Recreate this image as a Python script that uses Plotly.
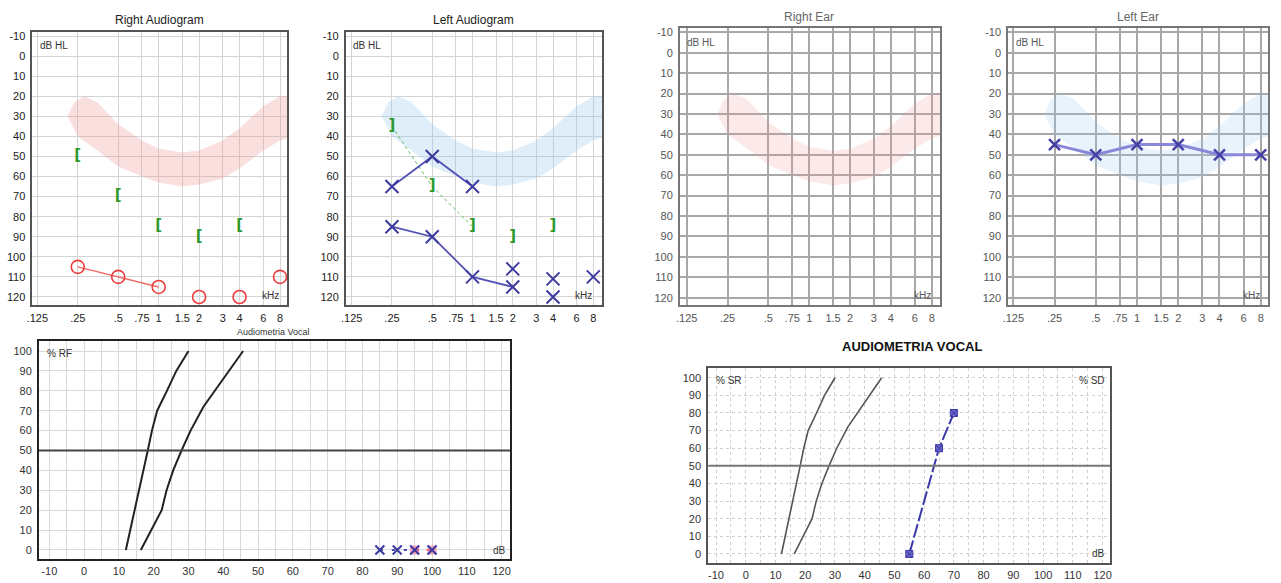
import numpy as np
import plotly.graph_objects as go

W, H = 1281, 583

# ---------------- data ----------------
FREQ_TICKS = [0.125, 0.25, 0.5, 0.75, 1, 1.5, 2, 3, 4, 6, 8]
FREQ_LABELS = [".125", ".25", ".5", ".75", "1", "1.5", "2", "3", "4", "6", "8"]
DB_TICKS = list(range(-10, 121, 10))

banana_upper_f = [0.21, 0.235, 0.28, 0.35, 0.5, 0.75, 1, 1.5, 2, 3, 4, 6, 8, 10]
banana_upper_db = [30, 23, 20, 23, 34, 42, 46, 48, 47, 42, 36, 25, 20, 20]
banana_lower_f = [10, 8, 6, 4, 3, 2, 1.5, 1, 0.75, 0.5, 0.35, 0.25, 0.21]
banana_lower_db = [40, 42, 47, 56, 61, 64, 65, 63, 60, 55, 47, 40, 30]

# Right audiogram
right_air_f = [0.25, 0.5, 1]
right_air_db = [105, 110, 115]
right_air_nr_f = [2, 4, 8]
right_air_nr_db = [120, 120, 110]
right_bone_f = [0.25, 0.5, 1, 2, 4]
right_bone_db = [50, 70, 85, 90, 85]

# Left audiogram
left_air1_f = [0.25, 0.5, 1]
left_air1_db = [65, 50, 65]
left_air2_f = [0.25, 0.5, 1, 2]
left_air2_db = [85, 90, 110, 115]
left_air_nr_f = [2, 4, 4, 8]
left_air_nr_db = [106, 111, 120, 110]
left_bone_f = [0.25, 0.5, 1]
left_bone_db = [35, 65, 85]
left_bone_nr_f = [2, 4]
left_bone_nr_db = [90, 85]

# Left ear (second report)
leftear_f = [0.25, 0.5, 1, 2, 4, 8]
leftear_db = [45, 50, 45, 45, 50, 50]

# Speech audiometry
norm1_db = [12, 14.6, 16.5, 18.3, 19.5, 21, 23.8, 26.5, 30]
norm1_pct = [0, 20, 35, 50, 60, 70, 80, 90, 100]
norm2_db = [16.3, 19.4, 22.3, 23.7, 25.6, 28, 30.6, 34.3, 39.5, 45.7]
norm2_pct = [0, 10, 20, 30, 40, 50, 60, 72, 85, 100]
vocal1_db = [85, 90, 95, 100]
vocal1_pct = [0, 0, 0, 0]
vocal1_masked_db = [95, 100]
vocal1_masked_pct = [0, 0]
vocal2_db = [55, 65, 70]
vocal2_pct = [0, 60, 80]

DB_SPEECH_TICKS = list(range(-10, 121, 10))
PCT_TICKS = list(range(0, 101, 10))
SD_TICKS = list(range(0, 101, 10))

# ---------------- helpers ----------------
def px(x):
    return x / W

def py(y):
    return 1 - y / H

L2 = np.log10(2)

def log_range(ol, orr):
    return [np.log10(0.125) + ol * L2, np.log10(8) + orr * L2]

fig = go.Figure()

def add(trace, n):
    sfx = "" if n == 1 else str(n)
    trace.update(xaxis="x" + sfx, yaxis="y" + sfx, showlegend=False, hoverinfo="skip")
    fig.add_trace(trace)

def banana(n, color):
    add(go.Scatter(x=banana_upper_f + banana_lower_f, y=banana_upper_db + banana_lower_db,
                   mode="lines", fill="toself", fillcolor=color, line=dict(width=0)), n)

layout = dict(width=W, height=H, margin=dict(l=0, r=0, t=0, b=0), autosize=False,
              template="none", paper_bgcolor="white", plot_bgcolor="white",
              font=dict(family="Liberation Sans, Arial, sans-serif", color="#333"))

def aud_axes(n, xd, yd, xr, yr, gridc, linec, linew, tickc, gw):
    sfx = "" if n == 1 else str(n)
    layout["xaxis" + sfx] = dict(domain=xd, anchor="y" + sfx, type="log", range=xr,
                                 tickvals=FREQ_TICKS, ticktext=FREQ_LABELS, showgrid=True,
                                 gridcolor=gridc, gridwidth=gw, showline=True, mirror=True,
                                 linecolor=linec, linewidth=linew, ticks="", zeroline=False,
                                 tickfont=dict(size=11, color=tickc), automargin=False,
                                 ticklabelstandoff=2)
    layout["yaxis" + sfx] = dict(domain=yd, anchor="x" + sfx, range=yr, tickvals=DB_TICKS,
                                 ticktext=[str(v) for v in DB_TICKS],
                                 showgrid=True, gridcolor=gridc, gridwidth=gw, showline=True,
                                 mirror=True, linecolor=linec, linewidth=linew, ticks="",
                                 zeroline=False, tickfont=dict(size=11, color=tickc),
                                 automargin=False, ticklabelstandoff=3)

aud_axes(1, [px(32.3), px(287.3)], [py(305), py(32)], log_range(-0.124, 0.18), [124, -12],
         "#d4d4d4", "#555", 1.5, "#222", 1)
aud_axes(2, [px(345.7), px(601.7)], [py(305), py(32)], log_range(-0.149, 0.209), [124, -12],
         "#d4d4d4", "#555", 1.5, "#222", 1)
aud_axes(3, [px(680), px(940)], [py(305), py(28.3)], log_range(-0.164, 0.203), [123.6, -12],
         "#a8a8a8", "#777", 2, "#555", 1.5)
aud_axes(4, [px(1008.3), px(1268.3)], [py(305), py(28.3)], log_range(-0.121, 0.184), [123.6, -12],
         "#a8a8a8", "#777", 2, "#555", 1.5)

layout["xaxis5"] = dict(domain=[px(39), px(510)], anchor="y5", range=[-12.96, 122.4],
                        tickvals=DB_SPEECH_TICKS, ticktext=[str(v) for v in DB_SPEECH_TICKS],
                        showgrid=True, gridcolor="#d8d8d8",
                        minor=dict(dtick=5, tick0=0, showgrid=True, gridcolor="#d8d8d8"),
                        showline=True, mirror=True, linecolor="#222", linewidth=2, ticks="",
                        zeroline=False, tickfont=dict(size=11, color="#333"), automargin=False)
layout["yaxis5"] = dict(domain=[py(559.3), py(340.7)], anchor="x5", range=[-4.7, 105.2],
                        tickvals=PCT_TICKS, showgrid=True, gridcolor="#d8d8d8", showline=True,
                        mirror=True, linecolor="#222", linewidth=2, ticks="", zeroline=False,
                        tickfont=dict(size=11, color="#333"), automargin=False,
                        ticklabelstandoff=3)
layout["xaxis6"] = dict(domain=[px(708.3), px(1110)], anchor="y6", range=[-12.6, 122.5],
                        tickvals=DB_SPEECH_TICKS, ticktext=[str(v) for v in DB_SPEECH_TICKS],
                        showgrid=True, gridcolor="#cfcfcf", griddash="dot",
                        minor=dict(dtick=5, tick0=0, showgrid=True, gridcolor="#cfcfcf", griddash="dot"),
                        showline=True, mirror=True, linecolor="#555", linewidth=2, ticks="",
                        zeroline=False, tickfont=dict(size=11, color="#333"), automargin=False,
                        ticklabelstandoff=0)
layout["yaxis6"] = dict(domain=[py(563.3), py(367.7)], anchor="x6", range=[-5.3, 105.7],
                        tickvals=PCT_TICKS, showgrid=True, gridcolor="#cfcfcf", griddash="dot",
                        showline=True, mirror=True, linecolor="#555", linewidth=2, ticks="",
                        zeroline=False, tickfont=dict(size=11, color="#333"), automargin=False,
                        ticklabelstandoff=3)
layout["yaxis7"] = dict(overlaying="y6", side="right", anchor="x6", range=[105.3, -5.7],
                        tickvals=SD_TICKS, showgrid=False, showline=False, ticks="",
                        zeroline=False, tickfont=dict(size=11, color="#333"), automargin=False,
                        ticklabelstandoff=3)

# ---------------- traces ----------------
banana(1, "rgba(240,150,150,0.3)")
banana(2, "rgba(150,200,235,0.3)")
banana(3, "rgba(240,150,150,0.2)")
banana(4, "rgba(150,200,235,0.22)")

# Panel 1
add(go.Scatter(x=right_air_f, y=right_air_db, mode="lines+markers",
               line=dict(color="#f06a6a", width=1.5),
               marker=dict(symbol="circle-open", size=13, color="#ee3b3b", line=dict(width=1.6))), 1)
add(go.Scatter(x=right_air_nr_f, y=right_air_nr_db, mode="markers", cliponaxis=False,
               marker=dict(symbol="circle-open", size=13, color="#ee3b3b", line=dict(width=1.6))), 1)
add(go.Scatter(x=right_bone_f, y=right_bone_db, mode="text", text=["<b>[</b>"] * len(right_bone_f),
               textfont=dict(size=15, color="#2e9a2e", family="DejaVu Sans")), 1)

# Panel 2
xm = dict(symbol="x-thin-open", size=13, color="#3c3a9e", line=dict(width=2, color="#3c3a9e"))
add(go.Scatter(x=left_bone_f, y=left_bone_db, mode="lines",
               line=dict(color="#55bb55", width=1, dash="dot")), 2)
add(go.Scatter(x=left_air1_f, y=left_air1_db, mode="lines+markers",
               line=dict(color="#5552b5", width=1.8), marker=xm), 2)
add(go.Scatter(x=left_air2_f, y=left_air2_db, mode="lines+markers",
               line=dict(color="#5552b5", width=1.8), marker=xm), 2)
add(go.Scatter(x=left_air_nr_f, y=left_air_nr_db, mode="markers", marker=xm, cliponaxis=False), 2)
add(go.Scatter(x=left_bone_f + left_bone_nr_f, y=left_bone_db + left_bone_nr_db, mode="text",
               text=["<b>]</b>"] * (len(left_bone_f) + len(left_bone_nr_f)),
               textfont=dict(size=15, color="#2e9a2e", family="DejaVu Sans")), 2)

# Panel 4
add(go.Scatter(x=leftear_f, y=leftear_db, mode="lines+markers", cliponaxis=False,
               line=dict(color="#8a86d8", width=3),
               marker=dict(symbol="x-thin-open", size=11, color="#4440a8",
                           line=dict(width=2.5, color="#4440a8"))), 4)

# Panel 5
add(go.Scatter(x=norm1_db, y=norm1_pct, mode="lines", line=dict(color="#222", width=2)), 5)
add(go.Scatter(x=norm2_db, y=norm2_pct, mode="lines", line=dict(color="#222", width=2)), 5)
add(go.Scatter(x=vocal1_db, y=vocal1_pct, mode="lines", line=dict(color="#4a46b0", width=2, dash="3px,9px")), 5)
add(go.Scatter(x=vocal1_masked_db, y=vocal1_masked_pct, mode="lines",
               line=dict(color="#f06a6a", width=2, dash="3px,9px")), 5)
add(go.Scatter(x=vocal1_masked_db, y=vocal1_masked_pct, mode="markers",
               marker=dict(symbol="square", size=9, color="rgba(240,110,150,0.6)")), 5)
add(go.Scatter(x=vocal1_db, y=vocal1_pct, mode="markers",
               marker=dict(symbol="x-thin-open", size=9, color="#3c3a9e",
                           line=dict(width=2, color="#3c3a9e"))), 5)

# Panel 6
add(go.Scatter(x=norm1_db, y=norm1_pct, mode="lines", line=dict(color="#555", width=1.6)), 6)
add(go.Scatter(x=norm2_db, y=norm2_pct, mode="lines", line=dict(color="#555", width=1.6)), 6)
add(go.Scatter(x=vocal2_db, y=vocal2_pct, mode="lines+markers",
               line=dict(color="#3c3aa8", width=2, dash="14px,3px"),
               marker=dict(symbol="square-x", size=7, color="#6a66c8",
                           line=dict(width=1, color="#3c3aa8"))), 6)

# ---------------- shapes & annotations ----------------
layout["shapes"] = [
    dict(type="line", xref="x5 domain", yref="y5", x0=0, x1=1, y0=50, y1=50,
         line=dict(color="#444", width=2)),
    dict(type="line", xref="x6 domain", yref="y6", x0=0, x1=1, y0=50, y1=50,
         line=dict(color="#777", width=2)),
]

def ann(text, x, y, size=11, color="#333", xanchor="center", bold=False):
    return dict(text=("<b>%s</b>" % text) if bold else text, x=px(x), y=py(y), xref="paper",
                yref="paper", showarrow=False, xanchor=xanchor, yanchor="middle",
                font=dict(size=size, color=color))

layout["annotations"] = [
    ann("Right Audiogram", 159, 20, 12, "#222"),
    ann("Left Audiogram", 473, 20, 12, "#222"),
    ann("Right Ear", 809, 17, 12, "#666"),
    ann("Left Ear", 1138, 17, 12, "#666"),
    ann("Audiometria Vocal", 273, 332, 9, "#333"),
    ann("AUDIOMETRIA VOCAL", 912, 346, 13, "#111", bold=True),
    ann("dB HL", 38, 45, 10, "#333", "left"),
    ann("dB HL", 351, 45, 10, "#333", "left"),
    ann("dB HL", 685, 43, 10, "#555", "left"),
    ann("dB HL", 1014, 43, 10, "#555", "left"),
    ann("kHz", 270, 295, 10, "#333"),
    ann("kHz", 583, 295, 10, "#333"),
    ann("kHz", 922, 295, 10, "#555"),
    ann("kHz", 1251, 295, 10, "#555"),
    ann("% RF", 45, 353, 10, "#333", "left"),
    ann("dB", 499, 550, 10, "#333"),
    ann("% SR", 714, 380, 10, "#333", "left"),
    ann("% SD", 1092, 380, 10, "#333"),
    ann("dB", 1098, 553, 10, "#333"),
]

fig.update_layout(**layout)
fig.write_html("out.html", config={"displayModeBar": False},
               post_script="document.body.style.margin='0';document.body.style.overflow='hidden';")
